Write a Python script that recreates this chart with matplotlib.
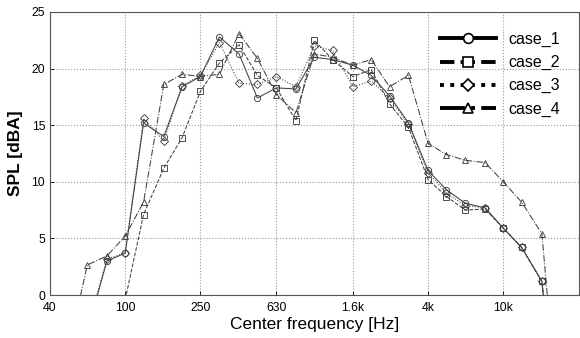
import numpy as np
import matplotlib
matplotlib.use('Agg')
import matplotlib.pyplot as plt
from matplotlib.lines import Line2D

# 1/3 octave band centre frequencies [Hz]
freqs = [50, 63, 80, 100, 125, 160, 200, 250, 315, 400, 500, 630, 800,
         1000, 1250, 1600, 2000, 2500, 3150, 4000, 5000, 6300, 8000,
         10000, 12500, 16000, 20000]

nan = np.nan
# SPL [dBA] per band
case_1 = [nan, -3.2, 3.0, 3.7, 15.2, 14.0, 18.4, 19.3, 22.8, 21.3, 17.4, 18.3, 18.2,
          21.0, 20.8, 20.3, 19.4, 17.6, 15.2, 11.0, 9.3, 8.1, 7.7,
          5.9, 4.2, 1.2, -14.0]
case_2 = [nan, nan, nan, -0.4, 7.1, 11.2, 13.9, 18.0, 20.5, 22.1, 19.4, 18.3, 15.4,
          22.5, 20.8, 19.3, 19.9, 16.9, 14.8, 10.2, 8.7, 7.5, 7.6,
          5.9, 4.2, 1.2, -14.0]
case_3 = [nan, -3.0, 3.2, 3.7, 15.6, 13.6, 18.5, 19.4, 22.3, 18.7, 18.6, 19.3, 18.4,
          22.0, 21.6, 18.4, 18.9, 17.4, 15.1, 10.8, 9.0, 7.9, 7.7,
          5.9, 4.2, 1.2, -14.0]
case_4 = [-4.9, 2.65, 3.45, 5.2, 8.2, 18.6, 19.5, 19.3, 19.5, 23.1, 20.9, 17.7, 16.1,
          21.3, 21.0, 20.3, 20.8, 18.4, 19.4, 13.4, 12.4, 11.9, 11.7,
          10.0, 8.2, 5.4, -13.0]

xtick_pos = [40, 100, 250, 630, 1600, 4000, 10000]
xtick_lab = ['40', '100', '250', '630', '1.6k', '4k', '10k']
ytick_pos = [0, 5, 10, 15, 20, 25]

series = [
    ('case_1', case_1, '-', 'o'),
    ('case_2', case_2, '--', 's'),
    ('case_3', case_3, ':', 'D'),
    ('case_4', case_4, '-.', '^'),
]

plt.rcParams['font.family'] = ['Liberation Sans', 'DejaVu Sans']

fig = plt.figure(figsize=(5.8, 3.38), dpi=100)
ax = fig.add_axes([0.0862, 0.1272, 0.9113, 0.8373])

col = '#404040'
for nombre, datos, estilo, marca in series:
    ms = 3.8 if marca == 'D' else 4.5
    ax.plot(freqs, datos, linestyle=estilo, marker=marca, color=col,
            linewidth=0.75, markersize=ms, markerfacecolor='none',
            markeredgewidth=0.65)

ax.set_xscale('log')
ax.set_xlim(40, 25000)
ax.set_ylim(0, 25)
ax.set_xticks(xtick_pos)
ax.set_xticklabels(xtick_lab)
ax.xaxis.set_minor_locator(matplotlib.ticker.NullLocator())
ax.set_yticks(ytick_pos)
ax.tick_params(direction='in', length=3, labelsize=8.8, width=0.6)
ax.tick_params(axis='x', pad=5)

ax.grid(True, linestyle=':', color='#999999', linewidth=0.8)
for s in ax.spines.values():
    s.set_linewidth(0.8)
    s.set_color('#555555')

ax.set_xlabel('Center frequency [Hz]', fontsize=12.5, labelpad=2)
ax.set_ylabel('SPL [dBA]', fontsize=12.5, fontweight='bold', labelpad=6)

# leyenda con lineas gruesas
manijas = [Line2D([], [], color='black', linestyle=e, marker=m, linewidth=2.8,
                  markersize=7 if m != 'D' else 6, markerfacecolor='white',
                  markeredgewidth=1.2)
           for _, _, e, m in series]
ax.legend(manijas, [s[0] for s in series], loc='upper right',
          bbox_to_anchor=(0.993, 0.98), frameon=False, fontsize=11.5,
          handlelength=3.5, labelspacing=0.5, handletextpad=0.8)

fig.savefig('out.png', dpi=100)
